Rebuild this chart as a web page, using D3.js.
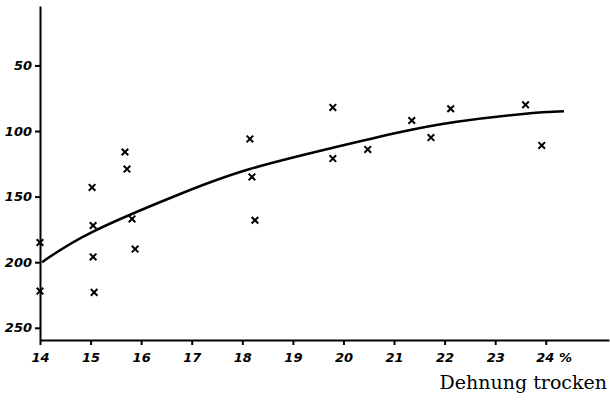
<!DOCTYPE html>
<html>
<head>
<meta charset="utf-8">
<script src="https://cdn.jsdelivr.net/npm/d3@7"></script>
<style>
  body { margin: 0; background: #fff; }
  .tick text { font-family: 'DejaVu Sans', sans-serif; font-style: italic; font-weight: bold; font-size: 13px; }
  .domain, .tick line { stroke: #000; stroke-width: 2; }
</style>
</head>
<body>
<div id="root"></div>
<script>
'use strict';

// measured points (Dehnung trocken %, value)
var dehnung = [14.0, 14.0, 15.03, 15.05, 15.05, 15.07, 15.68, 15.72, 15.82, 15.88,
  18.15, 18.19, 18.25, 19.79, 19.79, 20.48, 21.35, 21.73, 22.12, 23.6, 23.92];
var werte = [185, 222, 143, 172, 196, 223, 116, 129, 167, 190,
  106, 135, 168, 82, 121, 114, 92, 105, 83, 80, 111];

// fitted curve
var kurveX = [14.04, 15.03, 16.77, 18.15, 19.77, 21.11, 22.24, 23.55, 24.36];
var kurveY = [200, 177, 148, 129, 113, 101, 93, 87, 85];

var xTicks = [14, 15, 16, 17, 18, 19, 20, 21, 22, 23, 24];
var yTicks = [50, 100, 150, 200, 250];

var width = 610, height = 400;

var svg = d3.select('#root').append('svg')
  .attr('width', width)
  .attr('height', height);

var x = d3.scaleLinear().domain([14, 25.25]).range([40, 609]);
var y = d3.scaleLinear().domain([4.7, 259.3]).range([6, 340]);

// x axis
svg.append('g')
  .attr('transform', 'translate(0,340)')
  .call(d3.axisBottom(x).tickValues(xTicks).tickSize(5).tickSizeOuter(0).tickPadding(4)
    .tickFormat(function (d) { return d === 24 ? '24 %' : d; }))
  .call(function (g) {
    g.selectAll('.tick text').attr('dy', '1em');
    g.selectAll('.tick').filter(function (d) { return d === 24; }).select('text').attr('dx', '0.6em');
  });

// y axis
svg.append('g')
  .attr('transform', 'translate(40,0)')
  .call(d3.axisLeft(y).tickValues(yTicks).tickSize(5).tickSizeOuter(0).tickPadding(3));

// curve
var line = d3.line()
  .x(function (d) { return x(d[0]); })
  .y(function (d) { return y(d[1]); })
  .curve(d3.curveNatural);

svg.append('path')
  .datum(d3.zip(kurveX, kurveY))
  .attr('d', line)
  .attr('fill', 'none')
  .attr('stroke', '#000')
  .attr('stroke-width', 2.5);

// crosses
var s = 3.3;
svg.selectAll('path.kreuz')
  .data(d3.zip(dehnung, werte))
  .enter().append('path')
  .attr('class', 'kreuz')
  .attr('d', function (d) {
    var cx = x(d[0]), cy = y(d[1]);
    return 'M' + (cx - s) + ',' + (cy - s) + 'L' + (cx + s) + ',' + (cy + s) +
      'M' + (cx + s) + ',' + (cy - s) + 'L' + (cx - s) + ',' + (cy + s);
  })
  .attr('stroke', '#000')
  .attr('stroke-width', 2);

// axis title
svg.append('text')
  .attr('x', 607)
  .attr('y', 389)
  .attr('text-anchor', 'end')
  .attr('font-family', "'DejaVu Serif', serif")
  .attr('font-size', '19px')
  .text('Dehnung trocken');
</script>
</body>
</html>
